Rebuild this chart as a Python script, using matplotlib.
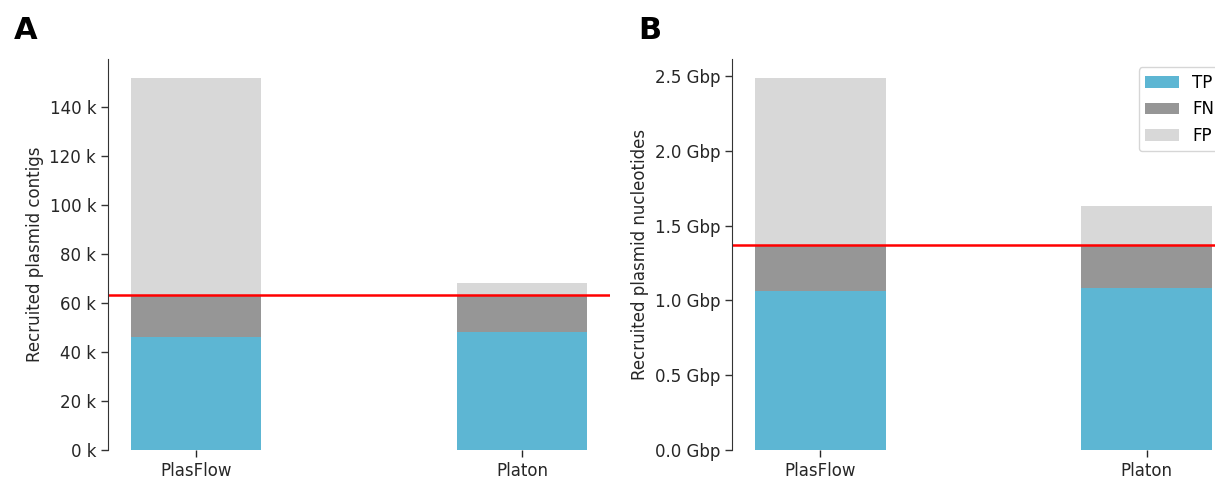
import matplotlib
matplotlib.use("Agg")
import matplotlib.pyplot as plt
from matplotlib.ticker import FuncFormatter

tools = ["PlasFlow", "Platon"]
# Panel A: contigs
contig_tp = [46000, 48200]
contig_fn = [17100, 14900]
contig_fp = [88700, 5200]
contig_total_plasmid = 63100
# Panel B: nucleotides (bp)
nt_tp = [1.063e9, 1.083e9]
nt_fn = [0.305e9, 0.285e9]
nt_fp = [1.119e9, 0.263e9]
nt_total_plasmid = 1.368e9

legend_labels = ["TP", "FN", "FP"]
colors = ["#5db6d3", "#969696", "#d8d8d8"]

plt.rcParams['font.family'] = ['DejaVu Sans']
plt.rcParams['font.size'] = 12

fig = plt.figure(figsize=(12.15, 4.79), dpi=100)
W, H = 1215, 479
axA = fig.add_axes([108 / W, (479 - 450) / H, 502 / W, 391 / H])
axB = fig.add_axes([732 / W, (479 - 450) / H, 503 / W, 391 / H])

def draw(ax, tp, fn, fp, line, ylim):
    x = list(range(len(tools)))
    b1 = [a for a in tp]
    b2 = [a + b for a, b in zip(tp, fn)]
    ax.bar(x, tp, width=0.4, color=colors[0], label=legend_labels[0])
    ax.bar(x, fn, width=0.4, bottom=b1, color=colors[1], label=legend_labels[1])
    ax.bar(x, fp, width=0.4, bottom=b2, color=colors[2], label=legend_labels[2])
    ax.axhline(line, color="red", lw=1.8)
    ax.set_xlim(-0.27, 1.27)
    ax.set_ylim(*ylim)
    ax.set_xticks(x)
    ax.set_xticklabels(tools)
    for s in ["top", "right", "bottom"]:
        ax.spines[s].set_visible(False)
    ax.spines["left"].set_color("#333333")
    ax.tick_params(colors="#262626", length=5, width=1)
    ax.tick_params(axis="y", colors="#333333", labelcolor="#262626")

draw(axA, contig_tp, contig_fn, contig_fp, contig_total_plasmid, (0, 159600))
axA.set_yticks(range(0, 140001, 20000))
axA.yaxis.set_major_formatter(FuncFormatter(lambda v, p: f"{v/1000:.0f} k"))
axA.set_ylabel("Recruited plasmid contigs", color="#262626")

draw(axB, nt_tp, nt_fn, nt_fp, nt_total_plasmid, (0, 2.614e9))
axB.set_yticks([0, 0.5e9, 1.0e9, 1.5e9, 2.0e9, 2.5e9])
axB.yaxis.set_major_formatter(FuncFormatter(lambda v, p: f"{v/1e9:.1f} Gbp"))
axB.set_ylabel("Recruited plasmid nucleotides", color="#262626")
axB.legend(loc="upper right", fontsize=12, bbox_to_anchor=(1 - 6 / 503, 1.0))

fig.text(14 / W, 1 - 39 / H, "A", fontsize=22, fontweight="bold", ha="left", va="baseline")
fig.text(638 / W, 1 - 39 / H, "B", fontsize=22, fontweight="bold", ha="left", va="baseline")

fig.savefig("out.png", dpi=100)
